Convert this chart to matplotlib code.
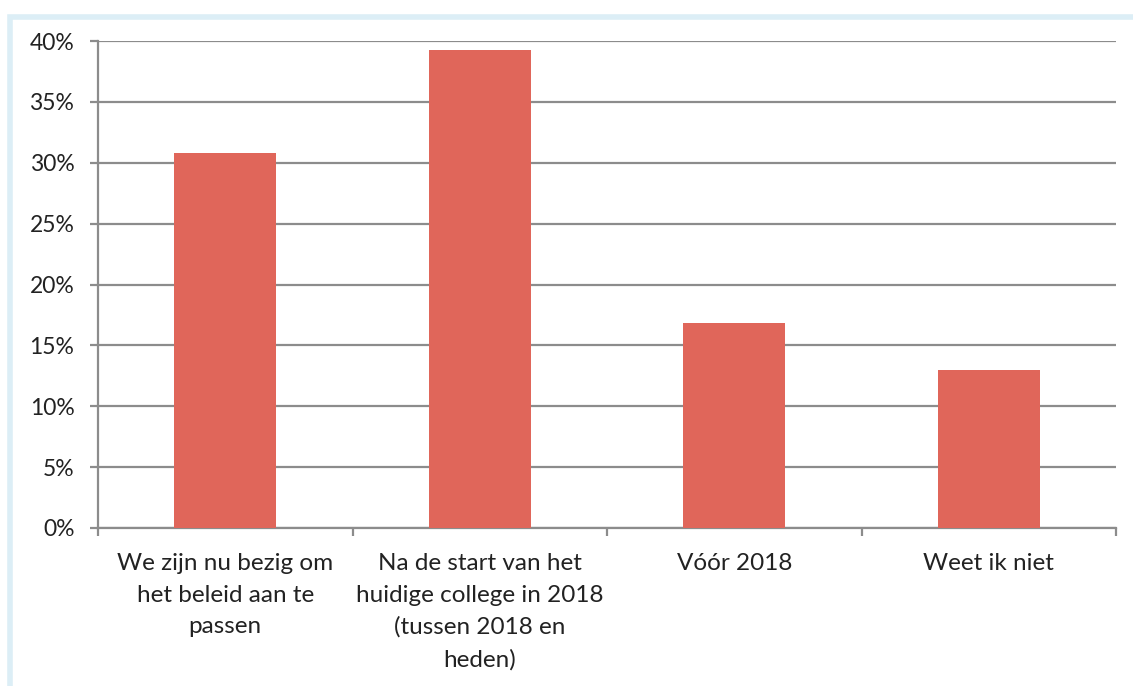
import matplotlib
matplotlib.use("Agg")
from matplotlib import pyplot as plt
from matplotlib.patches import Rectangle
from matplotlib.ticker import PercentFormatter, FixedLocator

# data
categories = ["We zijn nu bezig om\nhet beleid aan te\npassen",
              "Na de start van het\nhuidige college in 2018\n(tussen 2018 en\nheden)",
              "Vóór 2018",
              "Weet ik niet"]
values = [30.8, 39.3, 16.8, 13.0]
y_ticks = [0, 5, 10, 15, 20, 25, 30, 35, 40]

bar_color = "#E0665A"
grid_color = "#8C8C8C"

plt.rcParams['font.family'] = ['Lato', 'DejaVu Sans']

fig = plt.figure(figsize=(11.33, 6.86), dpi=100)
# light blue frame around the chart
fig.patches.append(Rectangle((10 / 1133, -0.01), 1.02, 0.99 - 10 / 686 + 0.01,
                             transform=fig.transFigure, fill=False,
                             edgecolor="#DCEEF6", linewidth=4))

ax = fig.add_axes([98 / 1133, 1 - 528 / 686, (1116 - 98) / 1133, (528 - 41) / 686])
x = range(len(categories))
ax.bar(x, values, width=0.4, color=bar_color, zorder=3)

ax.set_ylim(0, 40)
ax.set_xlim(-0.5, len(categories) - 0.5)
ax.set_yticks(y_ticks)
ax.yaxis.set_major_formatter(PercentFormatter(decimals=0))
ax.yaxis.grid(True, color=grid_color, linewidth=1.6, zorder=0)

ax.set_xticks(list(x))
ax.set_xticklabels(categories, fontsize=17.5, color="#222222", linespacing=1.62)
ax.tick_params(axis="x", length=0, pad=18)
ax.xaxis.set_minor_locator(FixedLocator([-0.5, 0.5, 1.5, 2.5, 3.5]))
ax.tick_params(axis="x", which="minor", length=6, width=1.6, color=grid_color)
ax.tick_params(axis="y", length=6, width=1.6, color=grid_color, labelsize=16.5,
               labelcolor="#222222", pad=11)

for side in ["top", "right"]:
    ax.spines[side].set_visible(False)
for side in ["left", "bottom"]:
    ax.spines[side].set_color(grid_color)
    ax.spines[side].set_linewidth(1.6)

fig.savefig("out.png", dpi=100)
